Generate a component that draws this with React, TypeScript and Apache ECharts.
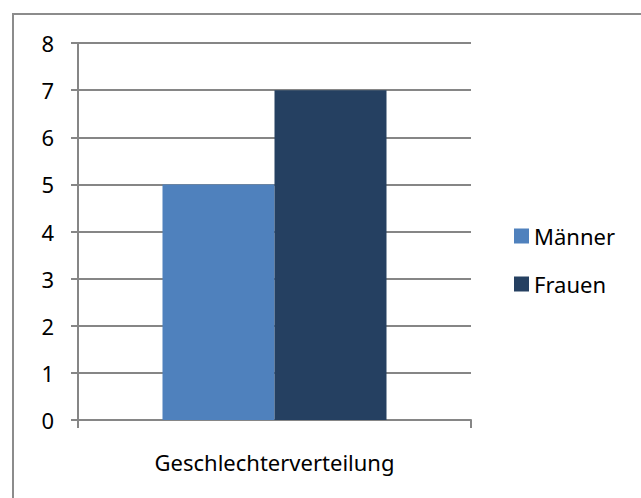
import React, { useEffect, useRef } from "react";
import * as echarts from "echarts";

const categories = ["Geschlechterverteilung"];
const seriesNames = ["Männer", "Frauen"];
const maennerValues = [5];
const frauenValues = [7];
const seriesColors = ["#4F81BD", "#254061"];

export default function App() {
  const ref = useRef<HTMLDivElement>(null);
  useEffect(() => {
    if (!ref.current) return;
    const chart = echarts.init(ref.current, null, { renderer: "svg" });
    const font = "Noto Sans";
    const axisColor = "#868686";
    chart.setOption({
      animation: false,
      backgroundColor: "#ffffff",
      textStyle: { fontFamily: font },
      graphic: [
        { type: "line", shape: { x1: 12, y1: 14, x2: 641, y2: 14 }, style: { stroke: "#8c8c8c", lineWidth: 2 } },
        { type: "line", shape: { x1: 13, y1: 13, x2: 13, y2: 498 }, style: { stroke: "#8c8c8c", lineWidth: 2 } },
      ],
      legend: {
        orient: "vertical",
        left: 514,
        top: 225,
        padding: 0,
        itemWidth: 15,
        itemHeight: 15,
        itemGap: 26,
        icon: "rect",
        textStyle: { fontSize: 22, color: "#000", fontFamily: font, lineHeight: 22 },
        data: seriesNames,
      },
      grid: { left: 78, right: 170, top: 43, bottom: 78, containLabel: false },
      xAxis: {
        type: "category",
        data: categories,
        axisLine: { show: true, lineStyle: { color: axisColor, width: 2 } },
        axisTick: { show: true, length: 8, lineStyle: { color: axisColor, width: 2 } },
        axisLabel: { fontSize: 22, color: "#000", margin: 31, fontFamily: font },
      },
      yAxis: {
        type: "value",
        min: 0,
        max: 8,
        interval: 1,
        axisLine: { show: true, lineStyle: { color: axisColor, width: 2 } },
        axisTick: { show: true, length: 7, lineStyle: { color: axisColor, width: 2 } },
        splitLine: { show: true, lineStyle: { color: axisColor, width: 2 } },
        axisLabel: { fontSize: 22, color: "#000", margin: 24, fontFamily: font },
      },
      series: [
        {
          name: seriesNames[0],
          type: "bar",
          data: maennerValues,
          itemStyle: { color: seriesColors[0] },
          barGap: "0%",
          barCategoryGap: "43%",
        },
        {
          name: seriesNames[1],
          type: "bar",
          data: frauenValues,
          itemStyle: { color: seriesColors[1] },
          barGap: "0%",
          barCategoryGap: "43%",
        },
      ],
    });
    return () => chart.dispose();
  }, []);
  return (
    <div
      ref={ref}
      style={{ position: "fixed", left: 0, top: 0, width: 641, height: 498 }}
    />
  );
}
